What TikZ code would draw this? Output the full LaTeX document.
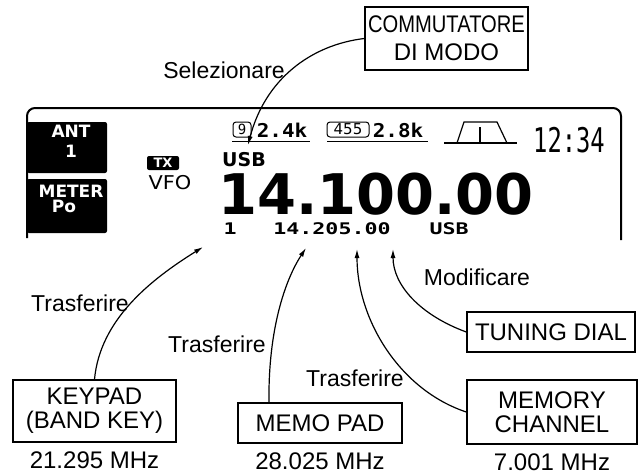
\documentclass[tikz,border=0pt]{standalone}
\usepackage{fontspec}
\setmainfont{Liberation Sans}
\newfontfamily\lcdfont{DejaVu Sans}
\newfontfamily\lcdmono{DejaVu Sans Mono}
\usetikzlibrary{arrows.meta,positioning}
\newcommand{\lblfont}{\fontsize{23}{24}\selectfont}
\newcommand{\boxfont}{\fontsize{24}{24}\selectfont}

\begin{document}
\begin{tikzpicture}[x=1pt, y=-1pt,
  node distance=9pt,
  box/.style={draw, line width=1.4pt, inner sep=0pt, align=center, font=\boxfont},
  lbl/.style={inner sep=0pt, font=\lblfont},
  freq/.style={inner sep=0pt, font=\boxfont},
  arrow/.style={-{Latex[length=9pt,width=5pt]}, line width=1.2pt},
  lcd/.style={inner sep=0pt, font=\lcdfont\bfseries\fontsize{19}{19}\selectfont},
  lcdnum/.style={inner sep=0pt, font=\lcdmono\bfseries\fontsize{16}{16}\selectfont},
  panel/.style={fill=black, rounded corners=2pt, inner sep=0pt},
  paneltext/.style={text=white, inner sep=0pt, font=\lcdfont\bfseries\fontsize{17}{17}\selectfont},
  ifbox/.style={draw, line width=1pt, rounded corners=3pt, inner sep=0pt, minimum height=15pt, font=\lcdmono\fontsize{14}{14}\selectfont}
]
\useasboundingbox (0,0) rectangle (644,475);

% display frame
\draw[line width=2pt, rounded corners=8pt] (27,238) -- (27,108) -- (621,108) -- (621,240);

% left panels
\node[panel, minimum width=80pt, minimum height=51pt] (antbox) at (67,147.5) {};
\node[paneltext] (antlbl) at (71,131) {ANT};
\node[paneltext] (antnum) at (71,151) {1};
\node[panel, minimum width=80pt, minimum height=54pt] (meterbox) at (67,206) {};
\node[paneltext] (meterlbl) at (71,191) {METER};
\node[paneltext] (meterpo) at (64,206) {Po};

% top row of the display
\node[ifbox, minimum width=18pt] (ninebox) at (242,129.5) {9};
\node[lcdnum, font=\lcdmono\bfseries\fontsize{19}{19}\selectfont] (bwwide) at (282,130) {\scalebox{1.1}[1]{2.4k}};
\draw[line width=1pt] (232,141) -- (310,141);
\node[ifbox, minimum width=42pt, font=\lcdfont\fontsize{15}{15}\selectfont] (ifbox) at (348,129.5) {455};
\node[lcdnum, font=\lcdmono\bfseries\fontsize{19}{19}\selectfont] (bwnarrow) at (398,130) {\scalebox{1.1}[1]{2.8k}};
\draw[line width=1pt] (327,141) -- (428,141);
\draw[line width=1.2pt] (444,143) -- (517,143);
\draw[line width=1.2pt] (457,143) -- (464,122) -- (497,122) -- (507,143);
\draw[line width=1.2pt] (480,127) -- (480,143);
\node[inner sep=0pt, font=\lcdmono\fontsize{34}{34}\selectfont] (clock) at (569,140) {\scalebox{0.7}[1]{12:34}};

% frequency readout
\node[panel, minimum width=32pt, minimum height=14pt, text=white, font=\lcdfont\bfseries\fontsize{13}{13}\selectfont] (txflag) at (163,163) {TX};
\node[inner sep=0pt, font=\lcdfont\fontsize{19}{19}\selectfont] (vfo) at (170,183) {\scalebox{1.1}[1]{VFO}};
\node[lcd] (modeusb) at (244,160) {USB};
\node[inner sep=0pt, font=\lcdfont\bfseries\fontsize{56}{56}\selectfont] (mainfreq) at (376,194) {14.100.00};
\node[lcdnum] (memnum) at (230,228.5) {\scalebox{1.35}[1]{1}};
\node[lcdnum] (subfreq) at (332,228.5) {\scalebox{1.35}[1]{14.205.00}};
\node[lcdnum] (submode) at (449,228.5) {\scalebox{1.35}[1]{USB}};

% controls
\node[box, minimum width=163pt, minimum height=63pt] (modesw) at (446.5,38.5) {\scalebox{0.84}[1]{COMMUTATORE}\\[4pt]DI MODO};
\node[box, minimum width=163pt, minimum height=62pt] (keypad) at (94.5,411) {KEYPAD\\(BAND KEY)};
\node[box, minimum width=164pt, minimum height=40pt] (memopad) at (320,423) {MEMO PAD};
\node[box, minimum width=168pt, minimum height=40pt] (tuning) at (551,332) {TUNING DIAL};
\node[box, minimum width=170pt, minimum height=64pt] (memory) at (552,412) {MEMORY\\CHANNEL};

\node[freq, below=of keypad] (keyfreq) {21.295 MHz};
\node[freq, below=of memopad] (memofreq) {28.025 MHz};
\node[freq, below=of memory] (chanfreq) {7.001 MHz};

% connector labels
\node[lbl] (selectlbl) at (224,70) {Selezionare};
\node[lbl] (keylbl) at (80,303) {Trasferire};
\node[lbl] (memolbl) at (217,344) {Trasferire};
\node[lbl] (chanlbl) at (355,378) {Trasferire};
\node[lbl] (diallbl) at (477,277) {Modificare};

% arrow tips in the display
\coordinate (modetip) at (248,145);
\coordinate (keytip) at (203,247);
\coordinate (memotip) at (306,248);
\coordinate (chantip) at (357,249);
\coordinate (dialtip) at (393,249);

\draw[arrow] (modesw.west) .. controls (310,45) and (265,80) .. (modetip);
\draw[arrow] (keypad.north) .. controls (100,320) and (150,280) .. (keytip);
\draw[arrow] ([xshift=-51pt]memopad.north) .. controls (268,330) and (285,280) .. (memotip);
\draw[arrow] (memory.west) .. controls (400,390) and (357,320) .. (chantip);
\draw[arrow] (tuning.west) .. controls (420,315) and (393,285) .. (dialtip);
\end{tikzpicture}
\end{document}
